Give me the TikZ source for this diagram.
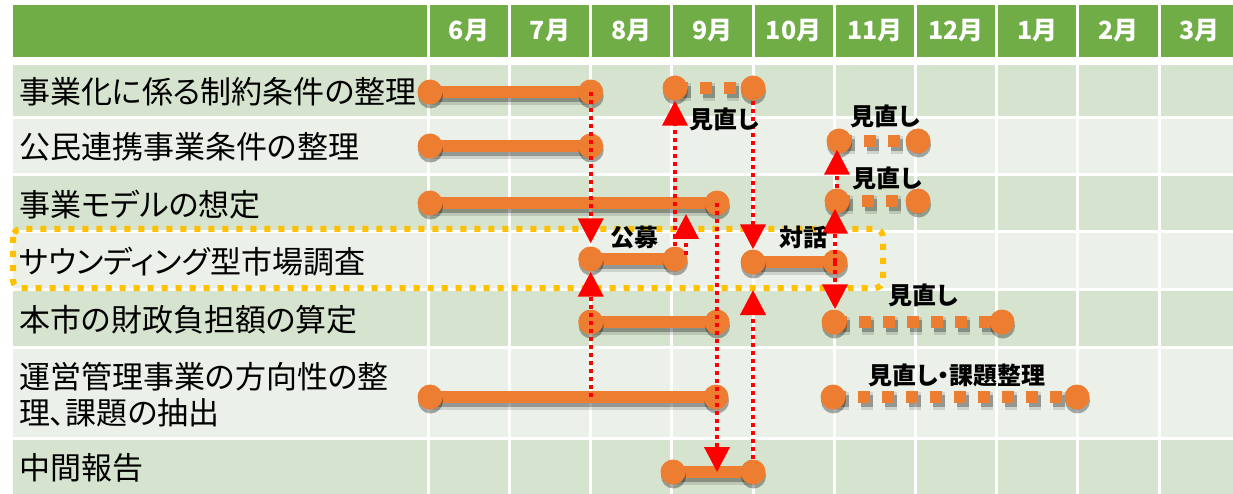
\documentclass[tikz,border=0pt]{standalone}
\usepackage{fontspec}
\setmainfont{Noto Sans CJK JP}[RawFeature=+palt]
\usetikzlibrary{arrows.meta,shadows}

\definecolor{headgreen}{HTML}{70AD47}
\definecolor{banddark}{HTML}{D6E3CE}
\definecolor{bandlight}{HTML}{EBF1E8}
\definecolor{barorange}{HTML}{ED7D31}
\definecolor{boxyellow}{HTML}{FFC000}
\definecolor{flowred}{HTML}{FF0000}

\pgfdeclarelayer{grid}
\pgfdeclarelayer{bars}
\pgfsetlayers{grid,bars,main}

\tikzset{
    gridline/.style={white, line width=3pt},
    ball/.style={circle, fill=barorange, minimum size=25pt, inner sep=0pt,
        drop shadow={shadow xshift=0.5pt, shadow yshift=-4pt, opacity=0.32, fill=black}},
    plan/.style={draw=barorange, line width=12pt,
        preaction={draw=black, opacity=0.12, line width=18pt,
            transform canvas={shift={(3pt,-4pt)}}},
        preaction={draw=black, opacity=0.28, line width=12pt,
            transform canvas={shift={(3pt,-4pt)}}}},
    review/.style={draw=barorange, line width=12pt, dash pattern=on 12pt off 12pt, dash phase=23pt,
        preaction={draw=black, opacity=0.12, line width=18pt, dash pattern=on 12pt off 12pt, dash phase=23pt,
            transform canvas={shift={(3pt,-4pt)}}},
        preaction={draw=black, opacity=0.28, line width=12pt, dash pattern=on 12pt off 12pt, dash phase=23pt,
            transform canvas={shift={(3pt,-4pt)}}}},
    flow/.style={flowred, line width=4pt, dash pattern=on 4pt off 4pt,
        -{Triangle[width=25pt, length=25pt]}},
    sounding/.style={boxyellow, line width=6pt, dash pattern=on 6pt off 8pt, rounded corners=8pt},
    rowlabel/.style={anchor=west, inner sep=0pt, align=left, font=\fontsize{31}{36}\selectfont},
    month/.style={white, inner sep=0pt, font=\fontsize{25}{30}\selectfont\bfseries},
    note/.style={inner sep=0pt, font=\fontsize{24}{28}\selectfont\bfseries},
}

\begin{document}
\begin{tikzpicture}[x=1pt, y=-1pt]
    \useasboundingbox (0,0) rectangle (1233,494);

    \begin{pgfonlayer}{grid}
        \fill[headgreen] (13,5) rectangle (1233,57);
        \fill[banddark] (13,65) rectangle (1233,116.5);
        \fill[bandlight] (13,119) rectangle (1233,173.5);
        \fill[banddark] (13,176.5) rectangle (1233,230.5);
        \fill[bandlight] (13,233.5) rectangle (1233,287.5);
        \fill[banddark] (13,290.5) rectangle (1233,345.5);
        \fill[bandlight] (13,348.5) rectangle (1233,436.5);
        \fill[banddark] (13,439.5) rectangle (1233,494);

        \draw[gridline] (428.3,5) -- (428.3,494);
        \draw[gridline] (509.5,5) -- (509.5,494);
        \draw[gridline] (590.7,5) -- (590.7,494);
        \draw[gridline] (671.9,5) -- (671.9,494);
        \draw[gridline] (753.1,5) -- (753.1,494);
        \draw[gridline] (834.3,5) -- (834.3,494);
        \draw[gridline] (915.5,5) -- (915.5,494);
        \draw[gridline] (996.7,5) -- (996.7,494);
        \draw[gridline] (1077.9,5) -- (1077.9,494);
        \draw[gridline] (1159.1,5) -- (1159.1,494);

        \draw[sounding] (13,229) rectangle (883,288);
    \end{pgfonlayer}

    \node[month] (m6) at (468.9,31) {6月};
    \node[month] (m7) at (550.1,31) {7月};
    \node[month] (m8) at (631.3,31) {8月};
    \node[month] (m9) at (712.5,31) {9月};
    \node[month] (m10) at (793.7,31) {10月};
    \node[month] (m11) at (874.9,31) {11月};
    \node[month] (m12) at (956.1,31) {12月};
    \node[month] (m1) at (1037.3,31) {1月};
    \node[month] (m2) at (1118.5,31) {2月};
    \node[month] (m3) at (1199.7,31) {3月};

    \node[rowlabel] (t1) at (19,92) {事業化に係る制約条件の整理};
    \node[rowlabel] (t2) at (19,147) {公民連携事業条件の整理};
    \node[rowlabel] (t3) at (19,205) {事業モデルの想定};
    \node[rowlabel] (t4) at (19,262) {サウンディング型市場調査};
    \node[rowlabel] (t5) at (19,320) {本市の財政負担額の算定};
    \node[rowlabel] (t6) at (19,395) {運営管理事業の方向性の整\\理、課題の抽出};
    \node[rowlabel] (t7) at (19,468) {中間報告};

    \node[ball] (r1a) at (430,92) {};
    \node[ball] (r1b) at (590.7,92) {};
    \node[ball] (r1c) at (675,88) {};
    \node[ball] (r1d) at (753,88) {};
    \node[ball] (r2a) at (430,146) {};
    \node[ball] (r2b) at (590.7,146) {};
    \node[ball] (r2c) at (839,141) {};
    \node[ball] (r2d) at (918,141) {};
    \node[ball] (r3a) at (430,203) {};
    \node[ball] (r3b) at (717,203) {};
    \node[ball] (r3c) at (837,201) {};
    \node[ball] (r3d) at (918,201) {};
    \node[ball] (r4a) at (590.7,259) {};
    \node[ball] (r4b) at (675,259) {};
    \node[ball] (r4c) at (753,262) {};
    \node[ball] (r4d) at (835,262) {};
    \node[ball] (r5a) at (590.7,322) {};
    \node[ball] (r5b) at (717,322) {};
    \node[ball] (r5c) at (834,322) {};
    \node[ball] (r5d) at (1002,322) {};
    \node[ball] (r6a) at (430,397) {};
    \node[ball] (r6b) at (716,397) {};
    \node[ball] (r6c) at (833,397) {};
    \node[ball] (r6d) at (1077,397) {};
    \node[ball] (r7a) at (673,472) {};
    \node[ball] (r7b) at (753,472) {};

    \begin{pgfonlayer}{bars}
        \draw[plan] (r1a.center) -- (r1b.center);
        \draw[review] (r1c.center) -- (r1d.center);
        \draw[plan] (r2a.center) -- (r2b.center);
        \draw[review] (r2c.center) -- (r2d.center);
        \draw[plan] (r3a.center) -- (r3b.center);
        \draw[review] (r3c.center) -- (r3d.center);
        \draw[plan] (r4a.center) -- (r4b.center);
        \draw[plan] (r4c.center) -- (r4d.center);
        \draw[plan] (r5a.center) -- (r5b.center);
        \draw[review] (r5c.center) -- (r5d.center);
        \draw[plan] (r6a.center) -- (r6b.center);
        \draw[review] (r6c.center) -- (r6d.center);
        \draw[plan] (r7a.center) -- (r7b.center);
    \end{pgfonlayer}

    \coordinate (c6a) at (590.7,397);
    \coordinate (c4x) at (686,255);
    \coordinate (c3x) at (686,214);
    \coordinate (c7x) at (717,472);
    \coordinate (c5x) at (753,290);

    \draw[flow, shorten >=3pt] (r1b.center) -- (r4a.north);
    \draw[flow] (c6a) -- (r4a.south);
    \draw[flow] (r4b.north) -- (r1c.south);
    \draw[flow] (c4x) -- (c3x);
    \draw[flow] (r3b.center) -- (c7x);
    \draw[flow] (r7b.north) -- (c5x);
    \draw[flow] (r1d.south) -- (r4c.north);
    \draw[flow, shorten >=-4pt] (r3c.north) -- (r3c.north |- r2c.south);
    \draw[flow, shorten >=-5pt] (r4d.center) -- (r4d.center |- r3c.south);
    \draw[flow] (r4d.center) -- (r4d.center |- r5c.north);

    \node[note] (n1) at (724,119) {見直し};
    \node[note] (n2) at (885,116) {見直し};
    \node[note] (n3) at (887,178) {見直し};
    \node[note] (n4) at (634,237) {公募};
    \node[note] (n5) at (803,237) {対話};
    \node[note] (n6) at (923,295) {見直し};
    \node[note] (n7) at (957,375) {見直し・課題整理};
\end{tikzpicture}
\end{document}
